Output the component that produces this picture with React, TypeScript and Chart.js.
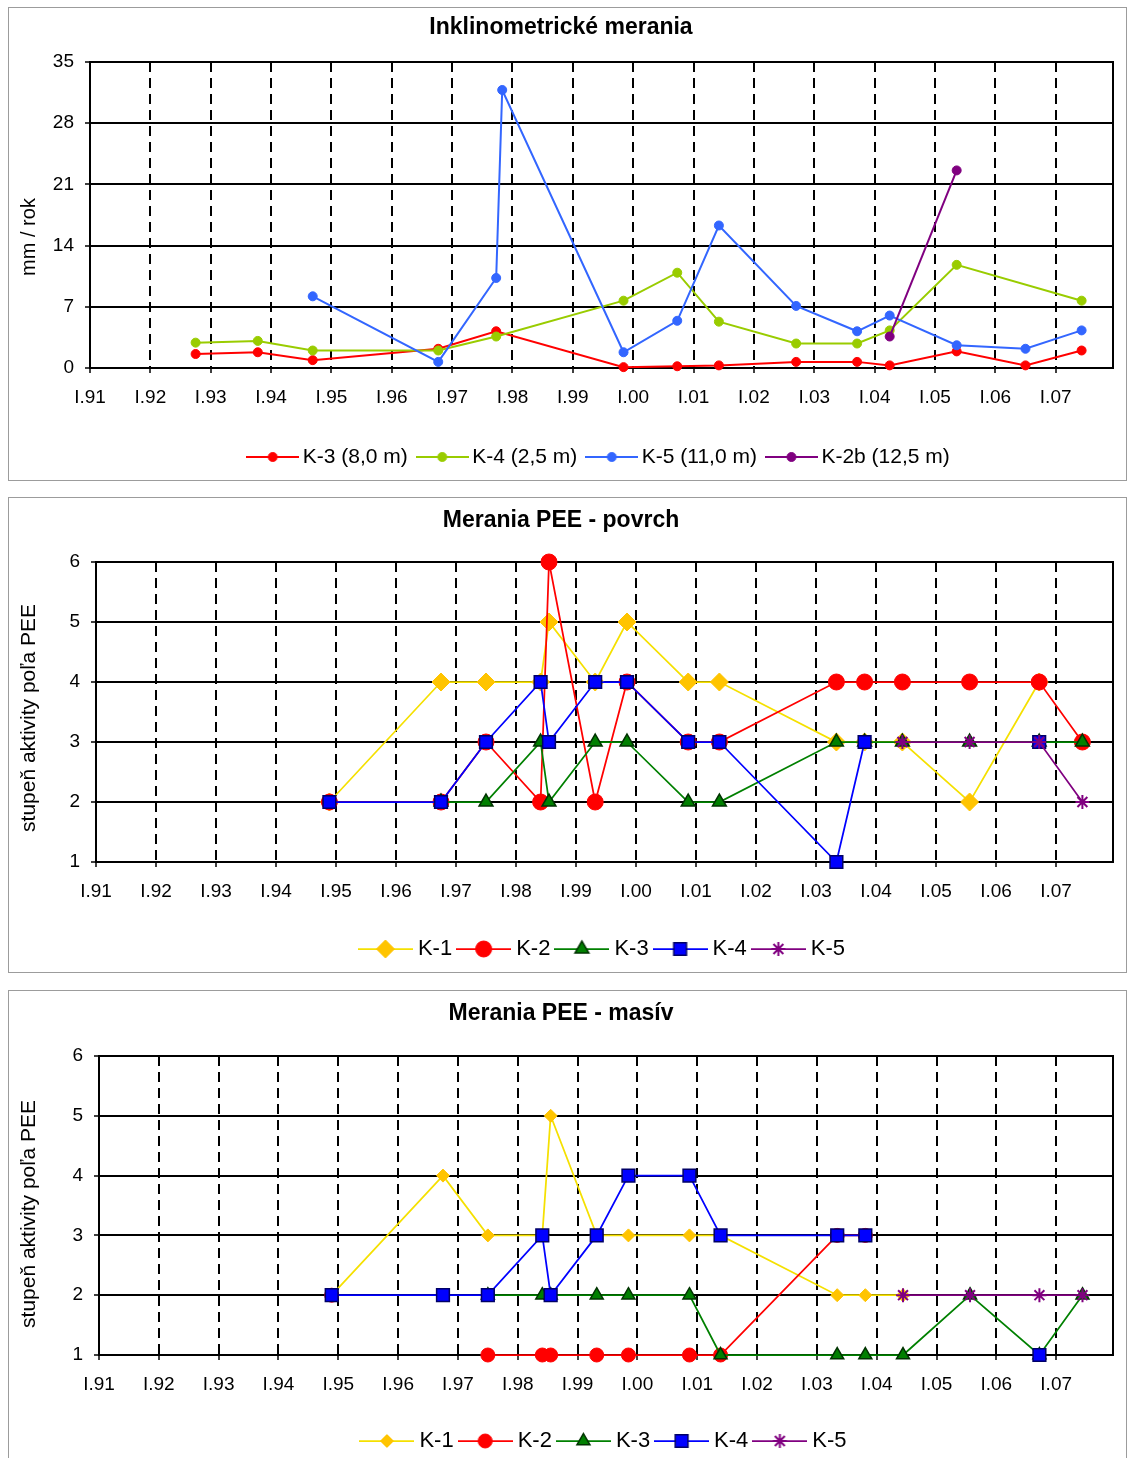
import React, { useEffect, useRef } from 'react';
import { Chart, registerables } from 'chart.js';

Chart.register(...registerables);

const FONT_FAMILY = '"Liberation Sans", Arial, Helvetica, sans-serif';
Chart.defaults.font.family = FONT_FAMILY;

// ---------------- shared x axis ----------------
const YEAR_TICKS = [1991, 1992, 1993, 1994, 1995, 1996, 1997, 1998, 1999, 2000, 2001, 2002, 2003, 2004, 2005, 2006, 2007];
const X_MIN = 1991;
const X_MAX = 2007.95;

// ---------------- Panel 1: Inklinometrické merania ----------------
const INK_TITLE = 'Inklinometrické merania';
const INK_AXIS_TITLE = 'mm / rok';
const INK_SERIES_NAMES = ['K-3 (8,0 m)', 'K-4 (2,5 m)', 'K-5 (11,0 m)', 'K-2b (12,5 m)'];
const INK_Y_TICKS = [0, 7, 14, 21, 28, 35];
const INK_DATES = [1992.75, 1993.78, 1994.69, 1996.77, 1997.73, 1997.83, 1999.84, 2000.73, 2001.42, 2002.70, 2003.71, 2004.25, 2005.36, 2006.50, 2007.43];
const INK_K3 = [1.6, 1.8, 0.9, 2.2, 4.2, null, 0.1, 0.2, 0.3, 0.7, 0.7, 0.3, 1.9, 0.3, 2.0];
const INK_K4 = [2.9, 3.1, 2.0, 2.0, 3.6, null, 7.7, 10.9, 5.3, 2.8, 2.8, 4.3, 11.8, null, 7.7];
const INK_K5 = [null, null, 8.2, 0.7, 10.3, 31.8, 1.8, 5.4, 16.3, 7.1, 4.2, 6.0, 2.6, 2.2, 4.3];
const INK_K2B = [null, null, null, null, null, null, null, null, null, null, null, 3.6, 22.6, null, null];

// ---------------- Panels 2 & 3: Merania PEE ----------------
const POV_TITLE = 'Merania PEE - povrch';
const MAS_TITLE = 'Merania PEE - masív';
const PEE_AXIS_TITLE = 'stupeň aktivity poľa PEE';
const PEE_SERIES_NAMES = ['K-1', 'K-2', 'K-3', 'K-4', 'K-5'];
const PEE_Y_TICKS = [1, 2, 3, 4, 5, 6];
const PEE_DATES = [1994.89, 1996.75, 1997.50, 1998.41, 1998.55, 1999.32, 1999.85, 2000.87, 2001.39, 2003.34, 2003.81, 2004.44, 2005.56, 2006.72, 2007.44];

const POV_K1 = [2, 4, 4, 4, 5, 4, 5, 4, 4, 3, 3, 3, 2, 4, null];
const POV_K2 = [2, 2, 3, 2, 6, 2, 4, 3, 3, 4, 4, 4, 4, 4, 3];
const POV_K3 = [null, 2, 2, 3, 2, 3, 3, 2, 2, 3, 3, 3, 3, 3, 3];
const POV_K4 = [2, 2, 3, 4, 3, 4, 4, 3, 3, 1, 3, null, null, 3, null];
const POV_K5 = [null, null, null, null, null, null, null, null, null, null, null, 3, 3, 3, 2];

const MAS_K1 = [2, 4, 3, 3, 5, 3, 3, 3, 3, 2, 2, 2, null, null, null];
const MAS_K2 = [2, null, 1, 1, 1, 1, 1, 1, 1, 3, 3, null, null, null, null];
const MAS_K3 = [null, null, 2, 2, 2, 2, 2, 2, 1, 1, 1, 1, 2, 1, 2];
const MAS_K4 = [2, 2, 2, 3, 2, 3, 4, 4, 3, 3, 3, null, null, 1, null];
const MAS_K5 = [null, null, null, null, null, null, null, null, null, null, null, 2, 2, 2, 2];

// ---------------- styles ----------------
type SeriesStyle = { line: string; lw: number; style: string; r: number; fill: string; stroke: string; bw: number };

const INK_STYLES: SeriesStyle[] = [
  { line: '#FF0000', lw: 2, style: 'circle', r: 4.5, fill: '#FF0000', stroke: '#FF0000', bw: 1 },
  { line: '#99CC00', lw: 2, style: 'circle', r: 4.5, fill: '#99CC00', stroke: '#99CC00', bw: 1 },
  { line: '#3366FF', lw: 2, style: 'circle', r: 4.5, fill: '#3366FF', stroke: '#3366FF', bw: 1 },
  { line: '#800080', lw: 2, style: 'circle', r: 4.5, fill: '#800080', stroke: '#800080', bw: 1 },
];
const POV_STYLES: SeriesStyle[] = [
  { line: '#F5E000', lw: 1.75, style: 'rectRot', r: 9, fill: '#FFC400', stroke: '#FFC400', bw: 1 },
  { line: '#FF0000', lw: 1.75, style: 'circle', r: 8, fill: '#FF0000', stroke: '#FF0000', bw: 1 },
  { line: '#008000', lw: 1.75, style: 'triangle', r: 8, fill: '#008000', stroke: '#003300', bw: 1.5 },
  { line: '#0000FF', lw: 1.75, style: 'rect', r: 9, fill: '#0000FF', stroke: '#000066', bw: 1.5 },
  { line: '#800080', lw: 1.75, style: 'star', r: 7, fill: '#800080', stroke: '#800080', bw: 2 },
];
const MAS_STYLES: SeriesStyle[] = [
  { line: '#F5E000', lw: 1.75, style: 'rectRot', r: 6.5, fill: '#FFC400', stroke: '#FFC400', bw: 1 },
  { line: '#FF0000', lw: 1.75, style: 'circle', r: 7, fill: '#FF0000', stroke: '#FF0000', bw: 1 },
  { line: '#008000', lw: 1.75, style: 'triangle', r: 7.5, fill: '#008000', stroke: '#003300', bw: 1.5 },
  { line: '#0000FF', lw: 1.75, style: 'rect', r: 9, fill: '#0000FF', stroke: '#000066', bw: 1.5 },
  { line: '#800080', lw: 1.75, style: 'star', r: 7, fill: '#800080', stroke: '#800080', bw: 2 },
];

// ---------------- geometry ----------------
const FRAME_LEFT = 8;
const FRAME_W = 1119;
const CANVAS_LEFT = 9;
const CANVAS_W = 1117;
const CANVAS_H = 474;
const PLOT_RIGHT = 1113;

type PanelDef = {
  frameTop: number;
  frameHeight: number;
  bottomBorder: boolean;
  title: string;
  titleSize: number;
  titleCenterY: number;
  axisTitle: string;
  axisTitleSize: number;
  axisTitleX: number;
  axisTitleY: number;
  plotLeft: number;
  plotTop: number;
  plotBottom: number;
  legendCenterY: number;
  legendFont: number;
  legendPad: number;
  iconW: number;
  iconExt: number;
  yMin: number;
  yMax: number;
  yTicks: number[];
  names: string[];
  dates: number[];
  values: (number | null)[][];
  styles: SeriesStyle[];
  spanGaps: boolean;
};

const PANELS: PanelDef[] = [
  {
    frameTop: 7, frameHeight: 474, bottomBorder: true,
    title: INK_TITLE, titleSize: 23, titleCenterY: 28,
    axisTitle: INK_AXIS_TITLE, axisTitleSize: 20, axisTitleX: 29, axisTitleY: 237,
    plotLeft: 90, plotTop: 62, plotBottom: 368,
    legendCenterY: 457, legendFont: 21, legendPad: 15, iconW: 53, iconExt: 7,
    yMin: 0, yMax: 35, yTicks: INK_Y_TICKS,
    names: INK_SERIES_NAMES, dates: INK_DATES,
    values: [INK_K3, INK_K4, INK_K5, INK_K2B], styles: INK_STYLES, spanGaps: true,
  },
  {
    frameTop: 497, frameHeight: 476, bottomBorder: true,
    title: POV_TITLE, titleSize: 23, titleCenterY: 521,
    axisTitle: PEE_AXIS_TITLE, axisTitleSize: 21, axisTitleX: 29, axisTitleY: 718,
    plotLeft: 96, plotTop: 562, plotBottom: 862,
    legendCenterY: 949, legendFont: 22, legendPad: 10, iconW: 55, iconExt: 6,
    yMin: 1, yMax: 6, yTicks: PEE_Y_TICKS,
    names: PEE_SERIES_NAMES, dates: PEE_DATES,
    values: [POV_K1, POV_K2, POV_K3, POV_K4, POV_K5], styles: POV_STYLES, spanGaps: false,
  },
  {
    frameTop: 990, frameHeight: 468, bottomBorder: false,
    title: MAS_TITLE, titleSize: 23, titleCenterY: 1014,
    axisTitle: PEE_AXIS_TITLE, axisTitleSize: 21, axisTitleX: 29, axisTitleY: 1214,
    plotLeft: 99, plotTop: 1056, plotBottom: 1355,
    legendCenterY: 1441, legendFont: 22, legendPad: 10, iconW: 55, iconExt: 6,
    yMin: 1, yMax: 6, yTicks: PEE_Y_TICKS,
    names: PEE_SERIES_NAMES, dates: PEE_DATES,
    values: [MAS_K1, MAS_K2, MAS_K3, MAS_K4, MAS_K5], styles: MAS_STYLES, spanGaps: false,
  },
];

// ---------------- drawing helpers ----------------
function drawMarker(g: CanvasRenderingContext2D, s: SeriesStyle, x: number, y: number) {
  const r = s.r;
  g.save();
  g.fillStyle = s.fill;
  g.strokeStyle = s.stroke;
  g.lineWidth = s.bw;
  g.beginPath();
  if (s.style === 'circle') {
    g.arc(x, y, r, 0, Math.PI * 2);
  } else if (s.style === 'rectRot') {
    g.moveTo(x - r, y); g.lineTo(x, y - r); g.lineTo(x + r, y); g.lineTo(x, y + r); g.closePath();
  } else if (s.style === 'rect') {
    const h = r * Math.SQRT1_2;
    g.rect(x - h, y - h, 2 * h, 2 * h);
  } else if (s.style === 'triangle') {
    let a = 0;
    g.moveTo(x + Math.sin(a) * r, y - Math.cos(a) * r);
    a += (2 * Math.PI) / 3;
    g.lineTo(x + Math.sin(a) * r, y - Math.cos(a) * r);
    a += (2 * Math.PI) / 3;
    g.lineTo(x + Math.sin(a) * r, y - Math.cos(a) * r);
    g.closePath();
  } else if (s.style === 'star') {
    for (let k = 0; k < 4; k++) {
      const a = (k * Math.PI) / 4;
      g.moveTo(x - Math.cos(a) * r, y - Math.sin(a) * r);
      g.lineTo(x + Math.cos(a) * r, y + Math.sin(a) * r);
    }
  }
  if (s.style !== 'star') g.fill();
  g.stroke();
  g.restore();
}

function makeIcon(s: SeriesStyle, w: number): HTMLCanvasElement {
  const c = document.createElement('canvas');
  const h = 24;
  c.width = w;
  c.height = h;
  const g = c.getContext('2d')!;
  g.strokeStyle = s.line;
  g.lineWidth = s.lw;
  g.beginPath();
  g.moveTo(0, h / 2);
  g.lineTo(w, h / 2);
  g.stroke();
  drawMarker(g, s, w / 2, h / 2);
  return c;
}

const plotFramePlugin = {
  id: 'plotFrame',
  beforeDatasetsDraw(chart: any) {
    const { ctx, chartArea: a } = chart;
    ctx.save();
    ctx.strokeStyle = '#000';
    ctx.lineWidth = 2;
    ctx.strokeRect(a.left, a.top, a.right - a.left, a.bottom - a.top);
    ctx.restore();
  },
};

const axisTitlePlugin = {
  id: 'axisTitle',
  afterDraw(chart: any, _args: any, opts: any) {
    const { ctx } = chart;
    ctx.save();
    ctx.translate(opts.x, opts.y);
    ctx.rotate(-Math.PI / 2);
    ctx.font = `${opts.size}px ${FONT_FAMILY}`;
    ctx.fillStyle = '#000';
    ctx.textAlign = 'center';
    ctx.textBaseline = 'middle';
    ctx.fillText(opts.text, 0, 0);
    ctx.restore();
  },
};

function buildConfig(def: PanelDef): any {
  const canvasTop = def.frameTop + 1;
  const plotL = def.plotLeft - CANVAS_LEFT;
  const plotT = def.plotTop - canvasTop;
  const plotB = def.plotBottom - canvasTop;
  const padRight = CANVAS_W - (PLOT_RIGHT - CANVAS_LEFT);
  const titleLH = def.titleSize * 1.2;
  const titlePadTop = def.titleCenterY - canvasTop - titleLH / 2;
  const titlePadBottom = plotT - titlePadTop - titleLH;
  const legendC = def.legendCenterY - canvasTop;
  const xH = legendC - plotB - def.legendPad - def.legendFont / 2;
  const legendH = def.legendFont + def.legendPad + 10;
  const padBottom = Math.max(0, CANVAS_H - (plotB + xH + legendH));
  const n = def.names.length;

  const icons = def.styles.map((s) => makeIcon(s, def.iconW));

  const datasets = def.names.map((name, i) => {
    const s = def.styles[i];
    return {
      label: name,
      data: def.dates.map((d, j) => ({ x: d, y: def.values[i][j] })),
      borderColor: s.line,
      backgroundColor: s.fill,
      borderWidth: s.lw,
      pointStyle: s.style,
      pointRadius: s.r,
      pointHoverRadius: s.r,
      pointBackgroundColor: s.fill,
      pointBorderColor: s.stroke,
      pointBorderWidth: s.bw,
      tension: 0,
      fill: false,
      clip: false,
      spanGaps: def.spanGaps,
      order: n - i,
    };
  });

  return {
    type: 'line',
    data: { datasets },
    options: {
      responsive: false,
      animation: false,
      devicePixelRatio: 1,
      events: [],
      layout: { padding: { left: 0, top: 0, right: padRight, bottom: padBottom } },
      plugins: {
        title: {
          display: true,
          text: def.title,
          color: '#000',
          font: { size: def.titleSize, weight: 'bold', family: FONT_FAMILY },
          padding: { top: titlePadTop, bottom: titlePadBottom },
        },
        legend: {
          display: true,
          position: 'bottom',
          fullSize: false,
          labels: {
            usePointStyle: true,
            pointStyleWidth: def.iconW - 2 * def.iconExt,
            padding: def.legendPad,
            color: '#000',
            font: { size: def.legendFont, family: FONT_FAMILY },
            generateLabels: (chart: any) =>
              chart.data.datasets.map((ds: any, i: number) => ({
                text: ds.label,
                pointStyle: icons[i],
                datasetIndex: i,
                hidden: false,
                lineWidth: 0,
                fillStyle: 'rgba(0,0,0,0)',
                strokeStyle: 'rgba(0,0,0,0)',
                fontColor: '#000',
              })),
          },
        },
        tooltip: { enabled: false },
        axisTitle: {
          text: def.axisTitle,
          size: def.axisTitleSize,
          x: def.axisTitleX - CANVAS_LEFT,
          y: def.axisTitleY - canvasTop,
        },
      },
      scales: {
        x: {
          type: 'linear',
          min: X_MIN,
          max: X_MAX,
          afterBuildTicks: (s: any) => {
            s.ticks = YEAR_TICKS.map((v) => ({ value: v }));
          },
          afterFit: (s: any) => {
            s.height = xH;
          },
          ticks: {
            autoSkip: false,
            maxRotation: 0,
            minRotation: 0,
            color: '#000',
            padding: 13.5,
            font: { size: 19, family: FONT_FAMILY },
            callback: (v: any) => 'I.' + String(v).slice(2),
          },
          grid: {
            color: (c: any) => (c.tick && c.tick.value === X_MIN ? 'rgba(0,0,0,0)' : '#000'),
            lineWidth: 2,
            tickLength: 5,
            tickColor: '#000',
            tickWidth: 1.5,
          },
          border: { display: true, color: '#000', width: 2, dash: [10, 6] },
        },
        y: {
          min: def.yMin,
          max: def.yMax,
          afterBuildTicks: (s: any) => {
            s.ticks = def.yTicks.map((v) => ({ value: v }));
          },
          afterFit: (s: any) => {
            s.width = plotL;
          },
          ticks: {
            color: '#000',
            padding: 11,
            font: { size: 19, family: FONT_FAMILY },
          },
          grid: {
            color: '#000',
            lineWidth: 2,
            tickLength: 5,
            tickColor: '#000',
            tickWidth: 1.5,
          },
          border: { display: true, color: '#000', width: 2 },
        },
      },
    },
    plugins: [plotFramePlugin, axisTitlePlugin],
  };
}

function ChartPanel({ def }: { def: PanelDef }) {
  const ref = useRef<HTMLCanvasElement | null>(null);
  useEffect(() => {
    if (!ref.current) return;
    const chart = new Chart(ref.current, buildConfig(def));
    return () => chart.destroy();
  }, [def]);
  const border = '1px solid #9c9c9c';
  return (
    <div
      style={{
        position: 'absolute',
        left: FRAME_LEFT,
        top: def.frameTop,
        width: FRAME_W,
        height: def.frameHeight,
        boxSizing: 'border-box',
        borderTop: border,
        borderLeft: border,
        borderRight: border,
        borderBottom: def.bottomBorder ? border : 'none',
        overflow: 'hidden',
        background: '#fff',
      }}
    >
      <canvas
        ref={ref}
        width={CANVAS_W}
        height={CANVAS_H}
        style={{ display: 'block', width: CANVAS_W, height: CANVAS_H }}
      />
    </div>
  );
}

export default function App() {
  return (
    <div>
      {PANELS.map((p, i) => (
        <ChartPanel key={i} def={p} />
      ))}
    </div>
  );
}
